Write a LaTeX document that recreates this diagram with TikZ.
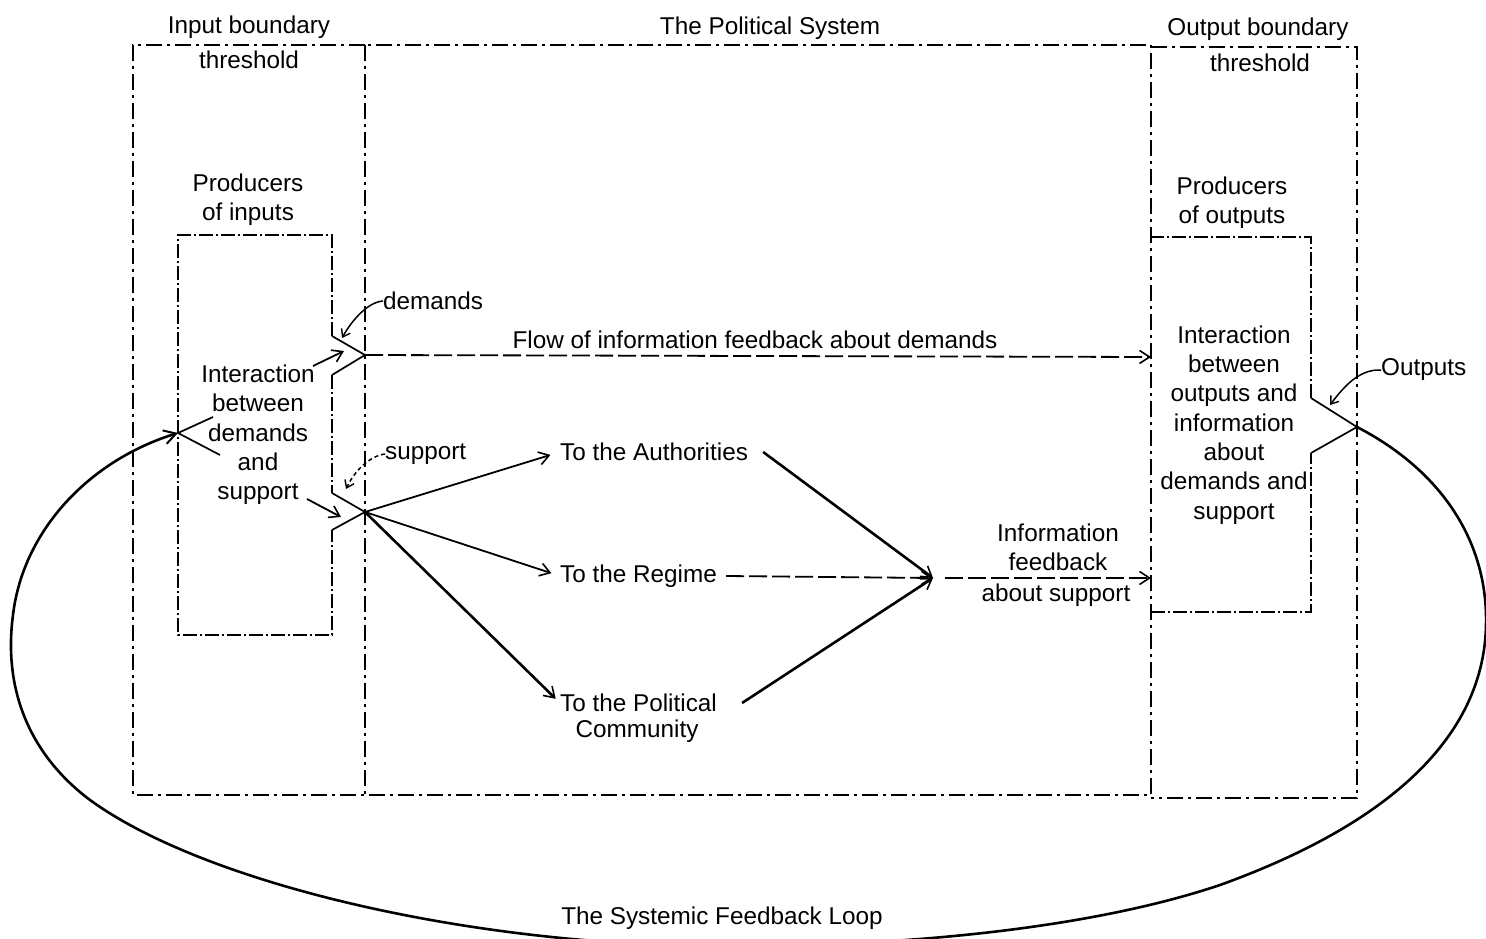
\documentclass[tikz,border=0pt]{standalone}
\usepackage{fontspec}
\setmainfont{Liberation Sans}
\usetikzlibrary{arrows.meta}
\begin{document}
\begin{tikzpicture}[x=1pt,y=-1pt,
  bound/.style={line width=1.8pt, dash pattern=on 16pt off 5pt on 3pt off 5pt},
  innerbox/.style={line width=1.6pt, dash pattern=on 14pt off 3pt on 2pt off 3pt},
  funnel/.style={line width=1.7pt},
  lbl/.style={font=\fontsize{24.3}{29.3}\selectfont, inner sep=0pt, align=center},
  flow/.style={line width=1.8pt, -{Straight Barb[length=10pt,width=13pt,line width=1.6pt]}},
  dflow/.style={flow, dash pattern=on 18pt off 5pt},
  heavy/.style={flow, line width=2.6pt},
  lead/.style={line width=1.5pt, -{Straight Barb[length=7pt,width=10pt,line width=1.4pt]}},
  loopline/.style={line width=2.6pt, -{Straight Barb[length=12pt,width=14pt,line width=2pt]}}
]
\useasboundingbox (0,0) rectangle (1486,939);

% key points
\coordinate (D) at (365,355);   % demands leave the input side
\coordinate (S) at (365,512);   % support leaves the input side
\coordinate (F) at (178,433);   % loop re-enters the producers of inputs
\coordinate (O) at (1357,427);  % outputs leave the system
\coordinate (C) at (933,578);   % support feedback converges
\coordinate (C2) at (945,578);
\coordinate (Ein) at (1151,357);
\coordinate (Eout) at (1151,578);

% boundaries (neighbouring boxes share their common edge)
\draw[bound] (365,45) -- (133,45) -- (133,795) -- (365,795);
\draw[bound] (365,45) rectangle (1151,795);
\draw[bound] (1151,47) -- (1357,47) -- (1357,798) -- (1151,798);

% producers of inputs
\draw[innerbox] (332,336) -- (332,235) -- (178,235) -- (178,635) -- (332,635) -- (332,530);
\draw[innerbox] (332,375) -- (332,493);
\draw[funnel] (332,336) -- (D) -- (332,375);
\draw[funnel] (332,493) -- (S) -- (332,530);
\draw[funnel] (213,417) -- (F) -- (220,455);

% producers of outputs
\draw[innerbox] (1311,398) -- (1311,237) -- (1151,237);
\draw[innerbox] (1151,612) -- (1311,612) -- (1311,453);
\draw[funnel] (1311,398) -- (O) -- (1311,453);

% labels
\node[lbl] (ib1) at (249,27) {Input boundary};
\node[lbl] (ib2) at (249,60) {threshold};
\node[lbl] (ps) at (770,28) {The Political System};
\node[lbl] (ob1) at (1258,29) {Output boundary};
\node[lbl] (ob2) at (1260,63) {threshold};
\node[lbl] (pin) at (248,200) {Producers\\of inputs};
\node[lbl] (pout) at (1232,203) {Producers\\of outputs};
\node[lbl] (iin) at (258,435) {Interaction\\between\\demands\\and\\support};
\node[lbl] (iout) at (1234,425) {Interaction\\between\\outputs and\\information\\about\\demands and\\support};
\node[lbl, anchor=west] (dem) at (383,301) {demands};
\node[lbl, anchor=west] (sup) at (385,454) {support};
\node[lbl] (flowlbl) at (755,340) {Flow of information feedback about demands};
\node[lbl, anchor=west] (auth) at (560,452) {To the Authorities};
\node[lbl, anchor=west] (reg) at (560,576) {To the Regime};
\node[lbl, anchor=west] (pc1) at (560,703) {To the Political};
\node[lbl] (pc2) at (637,731) {Community};
\node[lbl] (ifb) at (1058,547) {Information\\feedback};
\node[lbl] (ifa) at (1056,595) {about support};
\node[lbl, anchor=west] (outl) at (1381,370) {Outputs};
\node[lbl] (loopl) at (722,918) {The Systemic Feedback Loop};

% inner arrows of the input side
\draw[flow] (313,366) -- (344,351);
\draw[flow] (307,499) -- (341,517);

% leaders
\draw[lead] (dem.west) .. controls (368,302) and (352,320) .. (342,338);
\draw[lead, dash pattern=on 4pt off 3pt] (sup.west) .. controls (370,456) and (355,470) .. (346,489);
\draw[lead] (outl.west) .. controls (1360,369) and (1345,385) .. (1330,405);

% demands feedback
\draw[dflow] (D) -- (Ein);

% support flows
\draw[flow, shorten >=10pt] (S) -- (auth.west);
\draw[flow, shorten >=9pt] (S) -- (reg.west);
\draw[heavy, shorten >=6pt] (S) -- (pc1.west);
\draw[heavy] ([xshift=15pt]auth.east) -- (C);
\draw[dflow] ([xshift=9pt]reg.east) -- (C);
\draw[heavy] ([xshift=25pt]pc1.east) -- (C);
\draw[dflow] (C2) -- (Eout);

% systemic feedback loop
\draw[loopline] (O)
  .. controls (1440,470) and (1488,540) .. (1486,625)
  .. controls (1484,730) and (1400,820) .. (1220,885)
  .. controls (1080,932) and (880,948) .. (700,946)
  .. controls (450,942) and (200,880) .. (90,800)
  .. controls (30,755) and (3,690) .. (13,615)
  .. controls (23,530) and (90,460) .. (F);
\end{tikzpicture}
\end{document}
